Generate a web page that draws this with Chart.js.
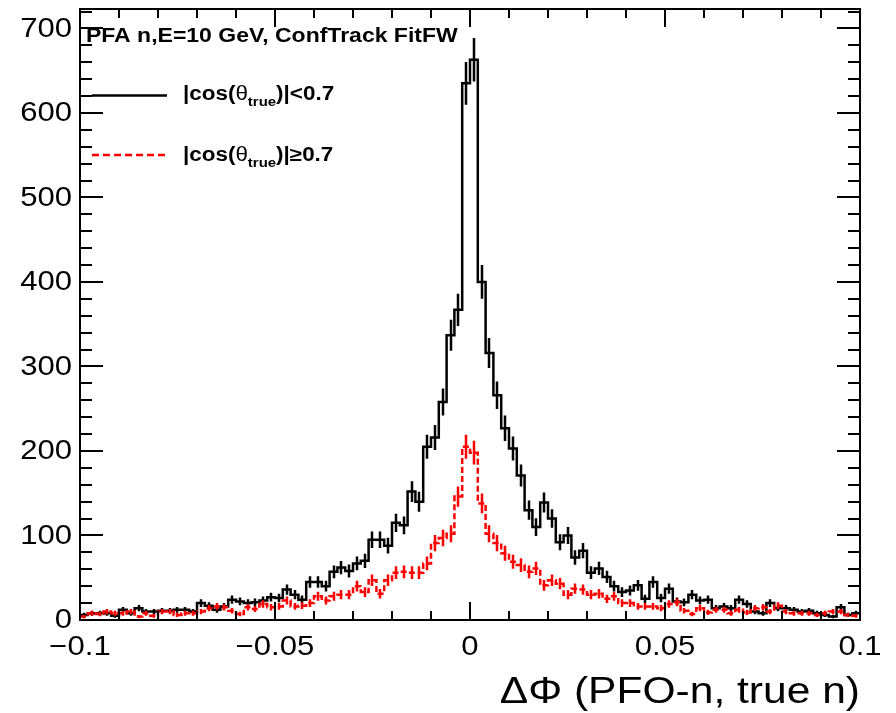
<!DOCTYPE html>
<html><head><meta charset="utf-8">
<style>html,body{margin:0;padding:0;background:#fff;}canvas{display:block;}</style>
<script src="https://cdn.jsdelivr.net/npm/chart.js@4.4.1/dist/chart.umd.min.js"></script>
</head><body>
<canvas id="c" width="896" height="713"></canvas>
<script>
// ---- data ----
const binLow = -0.1;
const binHigh = 0.1;
const nBins = 100;
// |cos(theta_true)| < 0.7  (black)
const cosLtValues = [
  6, 8, 8, 8, 5, 12, 8, 14, 10, 10,
  11, 11, 12, 12, 10, 20, 17, 12, 16, 24,
  22, 20, 21, 23, 27, 26, 36, 30, 24, 45,
  45, 40, 57, 62, 58, 67, 70, 95, 95, 88,
  115, 112, 152, 140, 205, 216, 258, 337, 367, 635,
  663, 400, 316, 266, 227, 203, 171, 130, 110, 139,
  120, 92, 100, 74, 82, 56, 61, 51, 40, 33,
  35, 41, 25, 45, 26, 37, 22, 21, 30, 23,
  24, 14, 16, 14, 24, 19, 10, 8, 20, 14,
  14, 12, 10, 11, 8, 6, 4, 15, 6, 8
];
// |cos(theta_true)| >= 0.7  (red)
const cosGeValues = [
  4, 8, 7, 10, 8, 8, 10, 4, 8, 5,
  10, 10, 6, 8, 8, 10, 14, 16, 15, 11,
  7, 15, 13, 19, 15, 16, 23, 16, 17, 20,
  28, 23, 28, 30, 30, 40, 33, 47, 31, 47,
  56, 57, 56, 56, 67, 91, 97, 102, 146, 205,
  198, 138, 102, 91, 79, 69, 65, 57, 61, 41,
  47, 43, 30, 37, 36, 30, 31, 25, 28, 20,
  20, 16, 16, 16, 14, 19, 21, 11, 7, 14,
  9, 12, 12, 8, 12, 9, 14, 15, 10, 17,
  10, 8, 8, 8, 6, 8, 10, 10, 6, 5
];
const xTickValues = [-0.1, -0.05, 0, 0.05, 0.1];
const xTickLabels = ['\u22120.1', '\u22120.05', '0', '0.05', '0.1'];
const yTickValues = [0, 100, 200, 300, 400, 500, 600, 700];
const yTickLabels = ['0', '100', '200', '300', '400', '500', '600', '700'];
const xMinorStep = 0.01;
const yMinorStep = 20;
const yMax = 723;
const titleText = 'PFA n,E=10 GeV, ConfTrack FitFW';
const xAxisTitle = '\u0394\u03A6 (PFO-n, true n)';
const legendParts = [
  ['|cos(', '\u03B8', 'true', ')|<0.7'],
  ['|cos(', '\u03B8', 'true', ')|\u22650.7']
];

// ---- build histogram outline points (left bin edges, step 'before') ----
const binWidth = (binHigh - binLow) / nBins;
function outline(vals) {
  const pts = vals.map((v, i) => ({x: binLow + i * binWidth, y: v}));
  pts.push({x: binHigh, y: vals[vals.length - 1]});
  return pts;
}

const FONT = '"Liberation Sans", Arimo, Helvetica, Arial, sans-serif';
const S = 1.15; // horizontal text stretch of the reference rendering
const LW = 2.5;

function sText(ctx, text, x, y, align) {
  ctx.save();
  ctx.translate(x, y);
  ctx.scale(S, 1);
  ctx.textAlign = align || 'left';
  ctx.fillText(text, 0, 0);
  ctx.restore();
}
function sWidth(ctx, text) { return ctx.measureText(text).width * S; }

const rootPlugin = {
  id: 'rootStyle',
  afterDatasetsDraw(chart) {
    const ctx = chart.ctx, xs = chart.scales.x, ys = chart.scales.y, a = chart.chartArea;
    ctx.save();
    ctx.beginPath(); ctx.rect(a.left, a.top, a.right - a.left, a.bottom - a.top); ctx.clip();
    const sets = [[cosLtValues, '#000000'], [cosGeValues, '#ff0000']];
    sets.forEach(([vals, col]) => {
      ctx.strokeStyle = col; ctx.lineWidth = LW; ctx.setLineDash([]);
      ctx.beginPath();
      vals.forEach((v, i) => {
        const e = Math.sqrt(v);
        const px = Math.round(xs.getPixelForValue(binLow + (i + 0.5) * binWidth));
        ctx.moveTo(px, ys.getPixelForValue(v - e));
        ctx.lineTo(px, ys.getPixelForValue(v + e));
      });
      ctx.stroke();
    });
    ctx.restore();
  },
  afterDraw(chart) {
    const ctx = chart.ctx, xs = chart.scales.x, ys = chart.scales.y, a = chart.chartArea;
    ctx.save();
    ctx.strokeStyle = '#000'; ctx.lineWidth = 2; ctx.setLineDash([]);
    ctx.strokeRect(a.left, a.top, a.right - a.left, a.bottom - a.top);
    // ticks
    ctx.beginPath();
    for (let k = 0; k <= Math.round((binHigh - binLow) / xMinorStep); k++) {
      const v = binLow + k * xMinorStep;
      const major = xTickValues.some(t => Math.abs(t - v) < 1e-9);
      const len = major ? 18 : 9;
      const px = Math.round(xs.getPixelForValue(v));
      ctx.moveTo(px, a.bottom); ctx.lineTo(px, a.bottom - len);
      ctx.moveTo(px, a.top); ctx.lineTo(px, a.top + len);
    }
    for (let v = 0; v <= yMax; v += yMinorStep) {
      const major = yTickValues.includes(v);
      const len = major ? 23 : 12;
      const py = Math.round(ys.getPixelForValue(v));
      ctx.moveTo(a.left, py); ctx.lineTo(a.left + len, py);
      ctx.moveTo(a.right, py); ctx.lineTo(a.right - len, py);
    }
    ctx.stroke();
    // labels
    ctx.fillStyle = '#000';
    ctx.font = '27px ' + FONT;
    ctx.textBaseline = 'alphabetic';
    xTickValues.forEach((v, i) => sText(ctx, xTickLabels[i], xs.getPixelForValue(v), 655, 'center'));
    ctx.textBaseline = 'middle';
    yTickValues.forEach((v, i) => sText(ctx, yTickLabels[i], a.left - 8, ys.getPixelForValue(v) + 1, 'right'));
    ctx.textBaseline = 'alphabetic';
    ctx.font = '37px ' + FONT;
    sText(ctx, xAxisTitle, a.right, 703, 'right');
    // title
    ctx.font = 'bold 20px ' + FONT;
    sText(ctx, titleText, 86, 41.5, 'left');
    // legend
    const rows = [{y: 95.5, base: 100, col: '#000', dash: []}, {y: 155, base: 161, col: '#ff0000', dash: [7, 4]}];
    rows.forEach((r, k) => {
      ctx.strokeStyle = r.col; ctx.lineWidth = LW; ctx.setLineDash(r.dash);
      ctx.beginPath(); ctx.moveTo(92, r.y); ctx.lineTo(167, r.y); ctx.stroke();
      ctx.setLineDash([]);
      ctx.fillStyle = '#000';
      const p = legendParts[k];
      let x = 183;
      ctx.font = 'bold 19.5px ' + FONT; sText(ctx, p[0], x, r.base); x += sWidth(ctx, p[0]);
      ctx.font = '19.5px ' + FONT; sText(ctx, p[1], x, r.base); x += sWidth(ctx, p[1]);
      ctx.font = 'bold 13px ' + FONT; sText(ctx, p[2], x, r.base + 6); x += sWidth(ctx, p[2]);
      ctx.font = 'bold 19.5px ' + FONT; sText(ctx, p[3], x, r.base);
    });
    ctx.restore();
  }
};

new Chart(document.getElementById('c'), {
  type: 'line',
  data: {
    datasets: [
      {label: legendParts[1].join(''), data: outline(cosGeValues), borderColor: '#ff0000', borderWidth: LW,
       borderDash: [6, 3], stepped: 'before', pointRadius: 0, fill: false, tension: 0},
      {label: legendParts[0].join(''), data: outline(cosLtValues), borderColor: '#000000', borderWidth: LW,
       stepped: 'before', pointRadius: 0, fill: false, tension: 0}
    ]
  },
  options: {
    responsive: false, animation: false, devicePixelRatio: 1,
    layout: {padding: {left: 80, right: 36, top: 9, bottom: 93}},
    scales: {
      x: {type: 'linear', min: binLow, max: binHigh, display: false},
      y: {type: 'linear', min: 0, max: yMax, display: false}
    },
    plugins: {legend: {display: false}, tooltip: {enabled: false}, title: {display: false}}
  },
  plugins: [rootPlugin]
});
</script>
</body></html>
